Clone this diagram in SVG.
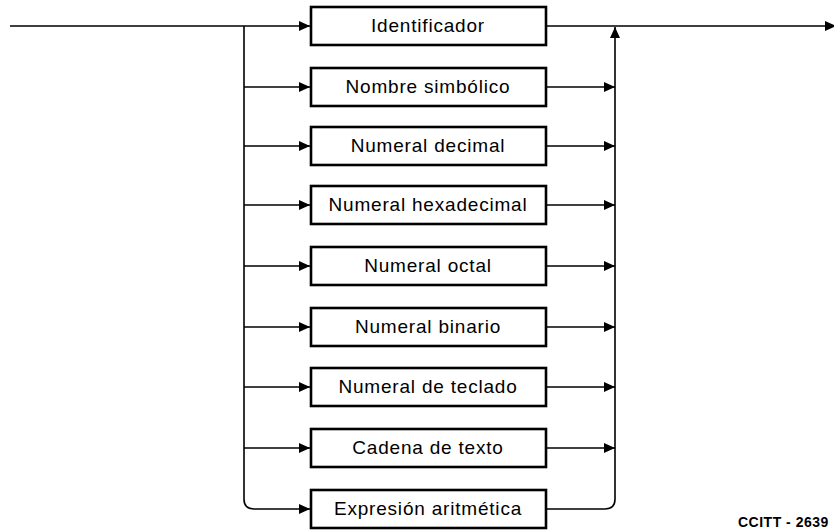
<svg xmlns="http://www.w3.org/2000/svg" width="834" height="532" viewBox="0 0 834 532">
<style>
.box{fill:#fff;stroke:#000;stroke-width:2.6}
.lbl{font-family:"Liberation Sans",Arial,sans-serif;font-size:19px;letter-spacing:0.8px;text-anchor:middle;fill:#000}
.ln{fill:none;stroke:#000;stroke-width:1.6}
</style>
<defs>
<marker id="ah" markerUnits="userSpaceOnUse" markerWidth="12" markerHeight="10" refX="11" refY="5" orient="auto">
<path d="M0,0 L11,5 L0,10 Z" fill="#000"/>
</marker>
</defs>
<g id="connectors">
<path class="ln" d="M10,26 H310" marker-end="url(#ah)"/>
<path class="ln" d="M244,26 V499 Q244,509 254,509 H310" marker-end="url(#ah)"/>
<path class="ln" d="M244,87 H310" marker-end="url(#ah)"/>
<path class="ln" d="M244,146 H310" marker-end="url(#ah)"/>
<path class="ln" d="M244,205 H310" marker-end="url(#ah)"/>
<path class="ln" d="M244,266 H310" marker-end="url(#ah)"/>
<path class="ln" d="M244,327 H310" marker-end="url(#ah)"/>
<path class="ln" d="M244,387 H310" marker-end="url(#ah)"/>
<path class="ln" d="M244,448 H310" marker-end="url(#ah)"/>
<path class="ln" d="M546,509 H605 Q615,509 615,499 V27" marker-end="url(#ah)"/>
<path class="ln" d="M546,87 H615" marker-end="url(#ah)"/>
<path class="ln" d="M546,146 H615" marker-end="url(#ah)"/>
<path class="ln" d="M546,205 H615" marker-end="url(#ah)"/>
<path class="ln" d="M546,266 H615" marker-end="url(#ah)"/>
<path class="ln" d="M546,327 H615" marker-end="url(#ah)"/>
<path class="ln" d="M546,387 H615" marker-end="url(#ah)"/>
<path class="ln" d="M546,448 H615" marker-end="url(#ah)"/>
<path class="ln" d="M546,26 H836" marker-end="url(#ah)"/>
</g>
<g id="n1"><rect class="box" x="311" y="7" width="235" height="38"/><text class="lbl" x="428" y="32">Identificador</text></g>
<g id="n2"><rect class="box" x="311" y="68" width="235" height="38"/><text class="lbl" x="428" y="93">Nombre simbólico</text></g>
<g id="n3"><rect class="box" x="311" y="127" width="235" height="38"/><text class="lbl" x="428" y="152">Numeral decimal</text></g>
<g id="n4"><rect class="box" x="311" y="186" width="235" height="38"/><text class="lbl" x="428" y="211">Numeral hexadecimal</text></g>
<g id="n5"><rect class="box" x="311" y="247" width="235" height="38"/><text class="lbl" x="428" y="272">Numeral octal</text></g>
<g id="n6"><rect class="box" x="311" y="308" width="235" height="38"/><text class="lbl" x="428" y="333">Numeral binario</text></g>
<g id="n7"><rect class="box" x="311" y="368" width="235" height="38"/><text class="lbl" x="428" y="393">Numeral de teclado</text></g>
<g id="n8"><rect class="box" x="311" y="429" width="235" height="38"/><text class="lbl" x="428" y="454">Cadena de texto</text></g>
<g id="n9"><rect class="box" x="311" y="490" width="235" height="38"/><text class="lbl" x="428" y="515">Expresión aritmética</text></g>
<text x="738" y="527" font-family="'Liberation Sans',Arial,sans-serif" font-size="14" font-weight="bold" letter-spacing="0.5">CCITT - 2639</text>
</svg>
